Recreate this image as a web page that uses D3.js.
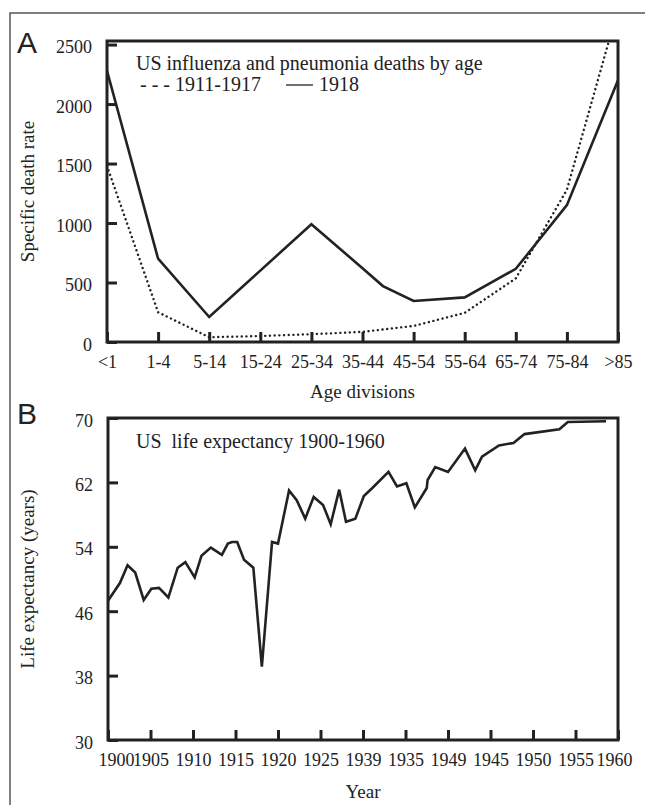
<!DOCTYPE html>
<html>
<head>
<meta charset="utf-8">
<script src="https://cdn.jsdelivr.net/npm/d3@7"></script>
<style>
    body { margin: 0; background: #fff; }
    text { font-family: "Liberation Serif", "Times New Roman", serif; fill: #222; }
    .panelLetter { font-family: "Liberation Sans", Arial, sans-serif; font-size: 30px; }
</style>
</head>
<body>
<div id="chart"></div>
<script>
// panel A: influenza and pneumonia deaths by age
var ageGroups = ["<1", "1-4", "5-14", "15-24", "25-34", "35-44", "45-54", "55-64", "65-74", "75-84", ">85"];
var deaths1911to1917 = [1480, 250, 40, 50, 65, 85, 135, 245, 535, 1280, 2800];
// [age group index, rate]; one extra bend between 35-44 and 45-54
var deaths1918 = [[0, 2280], [1, 700], [2, 210], [3, 600], [4, 990], [5, 620], [5.4, 470],
    [6, 345], [7, 375], [8, 615], [9, 1150], [10, 2200]];
var deathTicks = [0, 500, 1000, 1500, 2000, 2500];

// panel B: life expectancy
var yearLabels = ["1900", "1905", "1910", "1915", "1920", "1925", "1939", "1935", "1949", "1945", "1950", "1955", "1960"];
var lifeYears = [1900, 1901.4, 1902.3, 1903.2, 1904.2, 1905.1, 1906, 1907.1, 1908.2, 1909.1,
    1910.2, 1911, 1912.1, 1913.4, 1914.1, 1914.6, 1915.2, 1916, 1917.1, 1918.1,
    1919.3, 1920, 1921.3, 1922.2, 1923.2, 1924.2, 1925.3, 1926.2, 1927.2, 1928,
    1929.1, 1930.1, 1931.1, 1933, 1934, 1935.1, 1936.1, 1937.5, 1937.6, 1938.5,
    1940, 1942, 1943.2, 1944, 1946, 1947.7, 1949, 1953.1, 1954.1, 1958.6];
var lifeValues = [47.3, 49.5, 51.7, 50.8, 47.4, 48.8, 48.9, 47.7, 51.4, 52.1,
    50.2, 52.9, 53.9, 53.0, 54.4, 54.6, 54.6, 52.4, 51.4, 39.1,
    54.6, 54.4, 61.0, 59.8, 57.5, 60.2, 59.2, 56.8, 61.1, 57.1,
    57.5, 60.3, 61.3, 63.3, 61.5, 61.9, 58.9, 61.3, 62.3, 63.9,
    63.3, 66.2, 63.5, 65.2, 66.6, 66.9, 68.0, 68.6, 69.5, 69.6];
var lifeTicks = [30, 38, 46, 54, 62, 70];

var svg = d3.select("#chart").append("svg")
    .attr("width", 645)
    .attr("height", 805);

// outer figure border (runs off the page at right and bottom)
svg.append("rect")
    .attr("x", 10).attr("y", 13)
    .attr("width", 700).attr("height", 900)
    .attr("fill", "none")
    .attr("stroke", "#555")
    .attr("stroke-width", 1.5);

function styleAxis(g) {
    g.select(".domain").remove();
    g.selectAll(".tick line").attr("stroke", "#222").attr("stroke-width", 3);
    g.selectAll(".tick text").style("font-size", "18px").attr("fill", "#222");
}

function drawFrame(x0, x1, y0, y1) {
    svg.append("rect")
        .attr("x", x0).attr("y", y0)
        .attr("width", x1 - x0).attr("height", y1 - y0)
        .attr("fill", "none")
        .attr("stroke", "#222")
        .attr("stroke-width", 3);
}

// ---------- panel A ----------
var aLeft = 107, aRight = 618, aTop = 41, aBottom = 342;

var xA = d3.scaleLinear().domain([0, ageGroups.length - 1]).range([aLeft, aRight]);
var yA = d3.scaleLinear().domain([0, 2530]).range([aBottom, aTop]);

svg.append("clipPath").attr("id", "clipA")
    .append("rect")
    .attr("x", aLeft).attr("y", aTop)
    .attr("width", aRight - aLeft).attr("height", aBottom - aTop);

svg.append("g")
    .attr("transform", "translate(0," + aBottom + ")")
    .call(d3.axisBottom(xA)
        .tickValues(d3.range(ageGroups.length))
        .tickFormat(function (i) { return ageGroups[i]; })
        .tickSize(-10)
        .tickPadding(13))
    .call(styleAxis);

svg.append("g")
    .attr("transform", "translate(" + aLeft + ",0)")
    .call(d3.axisLeft(yA)
        .tickValues(deathTicks)
        .tickFormat(d3.format("d"))
        .tickSize(-10)
        .tickPadding(15))
    .call(styleAxis)
    .selectAll(".tick text").attr("dy", "0.45em");

var lineA = d3.line()
    .x(function (d) { return xA(d[0]); })
    .y(function (d) { return yA(d[1]); });

svg.append("path")
    .datum(deaths1911to1917.map(function (v, i) { return [i, v]; }))
    .attr("clip-path", "url(#clipA)")
    .attr("fill", "none")
    .attr("stroke", "#222")
    .attr("stroke-width", 2.4)
    .attr("stroke-linecap", "round")
    .attr("stroke-dasharray", "0.1,4.6")
    .attr("d", lineA);

svg.append("path")
    .datum(deaths1918)
    .attr("clip-path", "url(#clipA)")
    .attr("fill", "none")
    .attr("stroke", "#222")
    .attr("stroke-width", 2.6)
    .attr("d", lineA);

drawFrame(aLeft, aRight, aTop, aBottom);

svg.append("text")
    .attr("x", 136).attr("y", 70)
    .style("font-size", "20px")
    .text("US influenza and pneumonia deaths by age");

svg.append("text")
    .attr("x", 140).attr("y", 91)
    .style("font-size", "20px")
    .text("- - - 1911-1917");

svg.append("line")
    .attr("x1", 286).attr("x2", 313)
    .attr("y1", 85).attr("y2", 85)
    .attr("stroke", "#222")
    .attr("stroke-width", 1.3);

svg.append("text")
    .attr("x", 319).attr("y", 91)
    .style("font-size", "20px")
    .text("1918");

svg.append("text")
    .attr("x", (aLeft + aRight) / 2).attr("y", 398)
    .attr("text-anchor", "middle")
    .style("font-size", "19px")
    .text("Age divisions");

svg.append("text")
    .attr("transform", "translate(27," + (aTop + aBottom) / 2 + ") rotate(-90)")
    .attr("text-anchor", "middle")
    .attr("dy", "0.35em")
    .style("font-size", "19px")
    .text("Specific death rate");

svg.append("text").attr("class", "panelLetter")
    .attr("x", 17).attr("y", 53)
    .text("A");

// ---------- panel B ----------
var bLeft = 108, bRight = 618, bTop = 418, bBottom = 740;

var xB = d3.scaleLinear().domain([1900, 1960]).range([bLeft, bRight]);
var yB = d3.scaleLinear().domain([30, 70]).range([bBottom, bTop]);

var yearTicks = yearLabels.map(function (s, i) { return 1900 + 5 * i; });

var xAxisB = svg.append("g")
    .attr("transform", "translate(0," + bBottom + ")")
    .call(d3.axisBottom(xB)
        .tickValues(yearTicks)
        .tickFormat(function (d, i) { return yearLabels[i]; })
        .tickSize(-10)
        .tickPadding(13))
    .call(styleAxis);

// squeeze the end labels inward like the original
xAxisB.selectAll(".tick text")
    .attr("dx", function (d, i) {
        return i === 0 ? 8 : (i === yearTicks.length - 1 ? -4 : 0);
    });

svg.append("g")
    .attr("transform", "translate(" + bLeft + ",0)")
    .call(d3.axisLeft(yB)
        .tickValues(lifeTicks)
        .tickSize(-10)
        .tickPadding(15))
    .call(styleAxis)
    .selectAll(".tick text").attr("dy", "0.45em");

var lineB = d3.line()
    .x(function (d) { return xB(d.year); })
    .y(function (d) { return yB(d.value); });

var lifeData = lifeYears.map(function (y, i) { return { year: y, value: lifeValues[i] }; });

svg.append("path")
    .datum(lifeData)
    .attr("fill", "none")
    .attr("stroke", "#222")
    .attr("stroke-width", 2.6)
    .attr("d", lineB);

drawFrame(bLeft, bRight, bTop, bBottom);

svg.append("text")
    .attr("x", 136).attr("y", 448)
    .style("font-size", "20px")
    .style("white-space", "pre")
    .text("US  life expectancy 1900-1960");

svg.append("text")
    .attr("x", (bLeft + bRight) / 2).attr("y", 798)
    .attr("text-anchor", "middle")
    .style("font-size", "19px")
    .text("Year");

svg.append("text")
    .attr("transform", "translate(27," + (bTop + bBottom) / 2 + ") rotate(-90)")
    .attr("text-anchor", "middle")
    .attr("dy", "0.35em")
    .style("font-size", "19px")
    .text("Life expectancy (years)");

svg.append("text").attr("class", "panelLetter")
    .attr("x", 17).attr("y", 424)
    .text("B");
</script>
</body>
</html>
